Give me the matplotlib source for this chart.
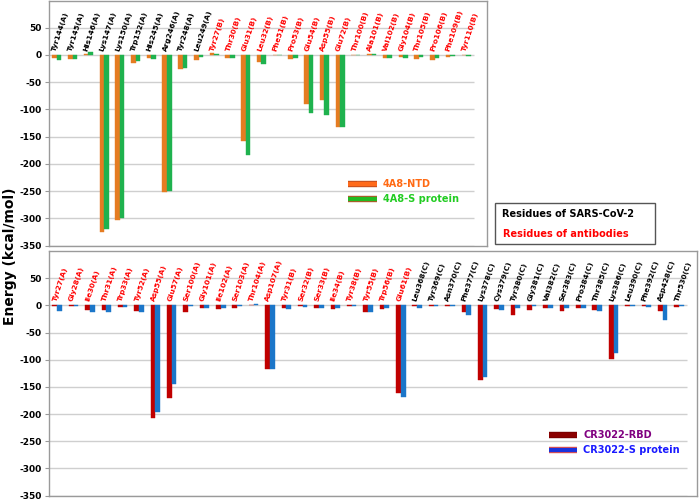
import numpy as np
import matplotlib
matplotlib.use("Agg")
import matplotlib.pyplot as plt
from matplotlib.lines import Line2D
from matplotlib.patches import Rectangle
import matplotlib.patheffects as pe

# ---------------- data ----------------
top_residues = ["Tyr144(A)", "Tyr145(A)", "His146(A)", "Lys147(A)", "Lys150(A)", "Trp152(A)",
                "His245(A)", "Arg246(A)", "Tyr248(A)", "Leu249(A)",
                "Tyr27(B)", "Thr30(B)", "Glu31(B)", "Leu32(B)", "Phe51(B)", "Pro53(B)", "Glu54(B)",
                "Asp55(B)", "Glu72(B)", "Thr100(B)", "Ala101(B)", "Val102(B)", "Gly104(B)",
                "Thr105(B)", "Pro106(B)", "Phe109(B)", "Tyr110(B)"]
top_is_virus = [True] * 10 + [False] * 17
a4a8_ntd = [-6, -7, 2, -326, -303, -15, -6, -252, -26, -9,
            3, -6, -158, -13, -1, -7, -90, -83, -133, -1, 1, -6, -4, -7, -9, -4, -1]
a4a8_s = [-10, -7, 6, -320, -300, -11, -7, -249, -24, -4,
          1, -6, -183, -17, -1, -5, -107, -110, -133, -1, 2, -6, -5, -4, -5, -2, -2]

bot_residues = ["Tyr27(A)", "Gly28(A)", "Ile30(A)", "Thr31(A)", "Trp33(A)", "Tyr52(A)", "Asp55(A)",
                "Glu57(A)", "Ser100(A)", "Gly101(A)", "Ile102(A)", "Ser103(A)", "Thr104(A)",
                "Asp107(A)", "Tyr31(B)", "Ser32(B)", "Ser33(B)", "Ile34(B)", "Tyr38(B)", "Tyr55(B)",
                "Trp56(B)", "Glu61(B)",
                "Leu368(C)", "Tyr369(C)", "Asn370(C)", "Phe377(C)", "Lys378(C)", "Cys379(C)",
                "Tyr380(C)", "Gly381(C)", "Val382(C)", "Ser383(C)", "Pro384(C)", "Thr385(C)",
                "Lys386(C)", "Leu390(C)", "Phe392(C)", "Asp428(C)", "Thr530(C)"]
bot_is_virus = [False] * 22 + [True] * 17
cr_rbd = [-1, -1, -8, -8, -3, -10, -207, -171, -12, -5, -7, -5, 1,
          -117, -4, -2, -5, -6, -2, -12, -6, -161,
          -2, -2, -2, -12, -137, -6, -17, -8, -4, -10, -4, -8, -99, -2, -2, -10, -3]
cr_s = [-10, -2, -13, -13, -3, -12, -197, -145, -2, -4, -5, -2, 3,
        -118, -6, -3, -5, -4, -2, -13, -4, -168,
        -4, -2, -2, -17, -132, -8, -5, -2, -5, -5, -4, -10, -87, -1, -3, -27, -1]

yticks = [-350, -300, -250, -200, -150, -100, -50, 0, 50]
ylabel = "Energy (kcal/mol)"

# ---------------- figure ----------------
W, H = 700, 500
fig = plt.figure(figsize=(7, 5), dpi=100)

def fx(px):
    return px / W

def fy(py):
    return 1 - py / H

spine_col = "#9a9a9a"
grid_col = "#cfcfcf"


def panel(rect, names, virus, v1, v2, c1, c2, xright):
    ax = fig.add_axes(rect)
    n = len(names)
    x = np.arange(n)
    w = 0.29
    ax.bar(x - w / 2, v1, width=w, color=c1, edgecolor=c1, linewidth=0.3, zorder=3)
    ax.bar(x + w / 2, v2, width=w, color=c2, edgecolor=c2, linewidth=0.3, zorder=3)
    ax.set_xlim(-0.5, xright)
    ax.set_ylim(-350, 100)
    ax.hlines(yticks, -0.5, n - 0.5, color=grid_col, lw=1.0, zorder=1)
    ax.set_yticks(yticks)
    ax.set_yticklabels([str(t) for t in yticks], fontsize=6.5, fontweight="bold")
    ax.set_xticks([])
    ax.tick_params(axis="y", length=3, color=spine_col, pad=2)
    for s in ax.spines.values():
        s.set_color(spine_col)
        s.set_linewidth(1.0)
    for i, (nm, vv) in enumerate(zip(names, virus)):
        ax.text(i - 0.15, 7, nm, rotation=72, rotation_mode="anchor", ha="left", va="center",
                fontsize=5.3, fontweight="bold", color="black" if vv else "#ff0000", zorder=4)
    return ax

ax1 = panel([fx(49), fy(245.5), fx(487 - 49), (245.5 - 0.5) / H], top_residues, top_is_virus,
            a4a8_ntd, a4a8_s, "#e57c22", "#1fb24e", 27.33)
ax2 = panel([fx(49), fy(495.5), fx(697 - 49), (495.5 - 251) / H], bot_residues, bot_is_virus,
            cr_rbd, cr_s, "#c00000", "#1b76c9", 39.1)

fig.text(fx(10), fy(256), ylabel, rotation=90, ha="center", va="center",
         fontsize=10, fontweight="bold")

# legends (drawn manually)
def leg_item(x0, x1, y, face, edge, label, tcol):
    ln = Line2D([fx(x0), fx(x1)], [fy(y), fy(y)], transform=fig.transFigure, color=face,
                lw=3.0, solid_capstyle="butt",
                path_effects=[pe.Stroke(linewidth=4.6, foreground=edge), pe.Normal()])
    fig.add_artist(ln)
    fig.text(fx(x1 + 6), fy(y), label, ha="left", va="center", fontsize=7,
             fontweight="bold", color=tcol)

leg_item(348, 377, 184, "#ff6a1a", "#c8501e", "4A8-NTD", "#ff6a13")
leg_item(348, 377, 199, "#22bb22", "#b05a2a", "4A8-S protein", "#22cc22")
leg_item(549, 577, 435, "#8b0000", "#7a0000", "CR3022-RBD", "#800080")
leg_item(549, 577, 450, "#1a33dd", "#e05050", "CR3022-S protein", "#1a1aff")

# residue key box
rect = Rectangle((fx(495), fy(244)), fx(655 - 495), (244 - 203) / H, transform=fig.transFigure,
                 facecolor="white", edgecolor="#555555", lw=1.0)
fig.add_artist(rect)
fig.text(fx(502), fy(214), "Residues of SARS-CoV-2", ha="left", va="center", fontsize=7,
         fontweight="bold", color="black")
fig.text(fx(503), fy(234), "Residues of antibodies", ha="left", va="center", fontsize=7,
         fontweight="bold", color="#ff0000")

fig.savefig("out.png", dpi=100)
